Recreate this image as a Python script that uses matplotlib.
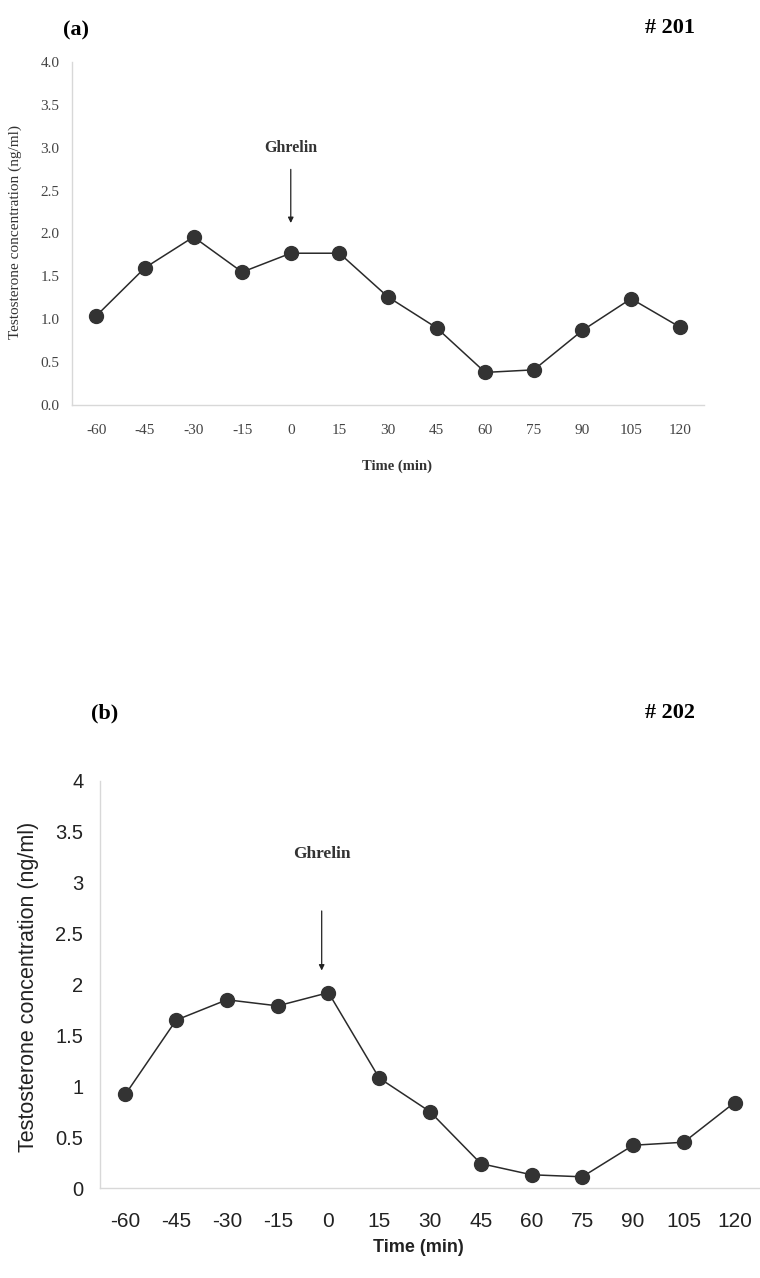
import matplotlib
matplotlib.use("Agg")
import matplotlib.pyplot as plt
import numpy as np

# sampling times (min) and testosterone values (ng/ml)
time_min = [-60, -45, -30, -15, 0, 15, 30, 45, 60, 75, 90, 105, 120]
conc_201 = [1.04, 1.60, 1.96, 1.55, 1.77, 1.77, 1.26, 0.90, 0.38, 0.41, 0.87, 1.24, 0.91]
conc_202 = [0.92, 1.65, 1.85, 1.79, 1.92, 1.08, 0.75, 0.24, 0.13, 0.11, 0.42, 0.45, 0.84]

yticks_a = [0.0, 0.5, 1.0, 1.5, 2.0, 2.5, 3.0, 3.5, 4.0]
yticks_b = [0, 0.5, 1, 1.5, 2, 2.5, 3, 3.5, 4]

W, H = 760, 1278
SERIF = 'Liberation Serif'
SANS = 'Liberation Sans'
fig = plt.figure(figsize=(W / 100, H / 100), dpi=100)


def px_axes(left, top, right, bottom):
    """axes from pixel box (top-left origin)"""
    return fig.add_axes([left / W, 1 - bottom / H, (right - left) / W, (bottom - top) / H])


def style_axes(ax, yticks, ylabels, font, xsize, ysize, xpad, ypad, tcolor):
    ax.set_xlim(-67.5, 127.5)
    ax.set_ylim(0, 4)
    ax.set_xticks(time_min)
    ax.set_xticklabels([str(t) for t in time_min], family=font, fontsize=xsize, color=tcolor)
    ax.set_yticks(yticks)
    ax.set_yticklabels(ylabels, family=font, fontsize=ysize, color=tcolor)
    ax.tick_params(axis='x', length=0, pad=xpad)
    ax.tick_params(axis='y', length=0, pad=ypad)
    for s in ['top', 'right']:
        ax.spines[s].set_visible(False)
    for s in ['left', 'bottom']:
        ax.spines[s].set_color('#d8d8d8')
        ax.spines[s].set_linewidth(1.0)
    ax.patch.set_alpha(0)


# ---- panel (a) ----
ax1 = px_axes(72, 62, 704, 405)
ax1.plot(time_min, conc_201, color='#2a2a2a', lw=1.1, marker='o', ms=10,
         mfc='#333333', mec='#333333')
style_axes(ax1, yticks_a, [f"{v:.1f}" for v in yticks_a], SERIF, 11, 11, 14, 9, '#444444')
ax1.annotate('', xy=(0, 2.09), xytext=(0, 2.78),
             arrowprops=dict(arrowstyle='-|>', color='#222222', lw=0.9, mutation_scale=8))
ax1.text(0, 3.0, 'Ghrelin', family=SERIF, fontweight='bold', fontsize=11.5,
         color='#333333', ha='center', va='center')

fig.text(0.10, 0.9765, '(a)', family=SERIF, fontweight='bold', fontsize=16, ha='center', va='center')
fig.text(0.882, 0.978, '# 201', family=SERIF, fontweight='bold', fontsize=16, ha='center', va='center')
fig.text(0.522, 0.6354, 'Time (min)', family=SERIF, fontweight='bold', fontsize=10.5,
         color='#333333', ha='center', va='center')
fig.text(0.0197, 0.8185, 'Testosterone concentration (ng/ml)', family=SERIF, fontsize=11,
         color='#333333', rotation=90, ha='center', va='center')

# ---- panel (b) ----
ax2 = px_axes(100, 781, 760, 1188)
ax2.plot(time_min, conc_202, color='#2a2a2a', lw=1.1, marker='o', ms=10,
         mfc='#333333', mec='#333333')
style_axes(ax2, yticks_b, [f"{v:g}" for v in yticks_b], SANS, 15, 14.5, 17, 12, '#222222')
ax2.annotate('', xy=(-2, 2.11), xytext=(-2, 2.75),
             arrowprops=dict(arrowstyle='-|>', color='#222222', lw=0.9, mutation_scale=8))
ax2.text(-2, 3.28, 'Ghrelin', family=SERIF, fontweight='bold', fontsize=12.5,
         color='#333333', ha='center', va='center')

fig.text(0.138, 0.442, '(b)', family=SERIF, fontweight='bold', fontsize=16, ha='center', va='center')
fig.text(0.882, 0.442, '# 202', family=SERIF, fontweight='bold', fontsize=16, ha='center', va='center')
fig.text(0.55, 0.0235, 'Time (min)', family=SANS, fontweight='bold', fontsize=13,
         color='#222222', ha='center', va='center')
fig.text(0.037, 0.2277, 'Testosterone concentration (ng/ml)', family=SANS, fontsize=15.5,
         color='#222222', rotation=90, ha='center', va='center')

fig.savefig('out.png', dpi=100, facecolor='white')
